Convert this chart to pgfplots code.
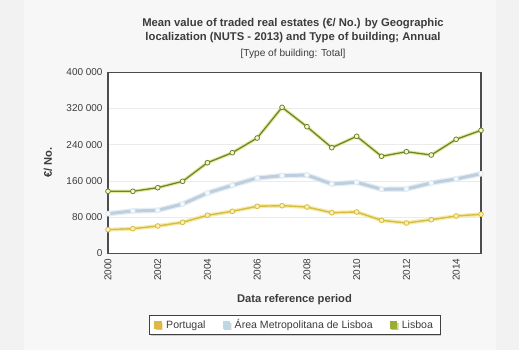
\documentclass[border=0pt]{standalone}
\usepackage{pgfplots}
\pgfplotsset{compat=1.18}
\usepackage{fontspec}
\setmainfont{Liberation Sans}
\usetikzlibrary{shadows}
\definecolor{bgc}{HTML}{F2F2F2}
\definecolor{bgin}{HTML}{F7F7F7}
\definecolor{txt}{HTML}{3C3C3C}
\definecolor{ptline}{HTML}{D8BC40}
\definecolor{ptglow}{HTML}{F2E38E}
\definecolor{ptfill}{HTML}{F8F0B8}
\definecolor{amline}{HTML}{BDCFDE}
\definecolor{amglow}{HTML}{E0EAF2}
\definecolor{amfill}{HTML}{F6F9FC}
\definecolor{lxline}{HTML}{6E8530}
\definecolor{lxglow}{HTML}{D9E577}
\definecolor{lxfill}{HTML}{F6F6C8}
\definecolor{ptleg}{HTML}{DDB847}
\definecolor{amleg}{HTML}{BCD7E6}
\definecolor{lxleg}{HTML}{9AAB36}

\pgfplotstableread{
year pt am lx
2000 52200 87500 137000
2001 54400 93500 137000
2002 60300 95000 145000
2003 68500 109000 159100
2004 84000 133300 200200
2005 92800 150300 222300
2006 103900 166400 254800
2007 105200 171500 322600
2008 102300 173000 279800
2009 89700 153100 233400
2010 91300 156900 258500
2011 72900 141400 214400
2012 67000 142100 224500
2013 74300 155400 217200
2014 82400 164200 251900
2015 86200 175900 271800
}\data

\begin{document}
\begin{tikzpicture}
\fill[bgc] (0,0) rectangle (519bp,350bp);
\fill[bgin] (24bp,0) rectangle (496bp,350bp);
\path[use as bounding box] (0,0) rectangle (519bp,350bp);
\node[font=\bfseries\fontsize{11.3}{14}\selectfont, text=txt, align=center] at (293bp,319bp)
  {Mean value of traded real estates (€/ No.) by Geographic\\localization (NUTS - 2013) and Type of building; Annual};
\node[font=\fontsize{10.2}{12}\selectfont, text=txt] at (293bp,296bp) {[Type of building: Total]};
\begin{axis}[
  at={(108bp,96.7bp)}, anchor=south west,
  scale only axis, width=373bp, height=181bp,
  xmin=2000, xmax=2015, ymin=0, ymax=400000,
  axis background/.style={fill=white},
  axis line style={draw=black!70, line width=1.4pt},
  xtick={2000,2002,...,2014},
  ytick={0,80000,...,400000},
  yticklabels={0,80 000,160 000,240 000,320 000,400 000},
  scaled y ticks=false,
  xticklabel style={rotate=90, anchor=east, xshift=-2bp, /pgf/number format/1000 sep={}},
  yticklabel style={xshift=-2bp},
  tick label style={font=\fontsize{10}{12}\selectfont, text=txt},
  /pgf/number format/assume math mode=true,
  major tick length=0pt,
  ymajorgrids, grid style={draw=black!8, line width=0.6pt},
  xlabel={Data reference period},
  xlabel style={font=\bfseries\fontsize{11.2}{13}\selectfont, text=txt, at={(axis description cs:0.5,-0.258)}, anchor=center},
  ylabel={€/ No.},
  ylabel style={font=\bfseries\fontsize{11.2}{13}\selectfont, text=txt, at={(axis description cs:-0.161,0.5)}, anchor=center, rotate=0},
  legend style={at={(0.5,-0.396)}, anchor=center, draw=black!75, line width=0.7pt, fill=white,
    drop shadow={shadow xshift=1.5pt, shadow yshift=-1.5pt, opacity=0.35},
    font=\fontsize{10.6}{12}\selectfont, text=txt, inner xsep=5pt, inner ysep=2.5pt},
  legend columns=3,
  legend cell align=left,
  legend image code/.code={\fill[#1] (0bp,-3.3bp) rectangle (6.5bp,3.3bp);},
  /tikz/every odd column/.append style={column sep=3bp},
  /tikz/every even column/.append style={column sep=15bp},
  clip=false,
]
\addlegendimage{ptleg}\addlegendentry{Portugal}
\addlegendimage{amleg}\addlegendentry{Área Metropolitana de Lisboa}
\addlegendimage{lxleg}\addlegendentry{Lisboa}
% Portugal
\addplot[ptglow, line width=4pt, opacity=0.7, forget plot] table[x=year,y=pt]{\data};
\addplot[ptline, line width=1.4pt, mark=*, mark size=2.4pt, mark options={fill=ptfill, draw=ptline, line width=0.8pt}, forget plot] table[x=year,y=pt]{\data};
% AML
\addplot[amglow, line width=5.5pt, opacity=0.8, forget plot] table[x=year,y=am]{\data};
\addplot[amline, line width=3pt, mark=*, mark size=2.4pt, mark options={fill=amfill, draw=amglow, line width=0.8pt}, forget plot] table[x=year,y=am]{\data};
% Lisboa
\addplot[lxglow, line width=3.5pt, opacity=0.7, forget plot] table[x=year,y=lx]{\data};
\addplot[lxline, line width=1.3pt, mark=*, mark size=2.4pt, mark options={fill=lxfill, draw=lxline, line width=0.8pt}, forget plot] table[x=year,y=lx]{\data};
\end{axis}
\end{tikzpicture}
\end{document}
